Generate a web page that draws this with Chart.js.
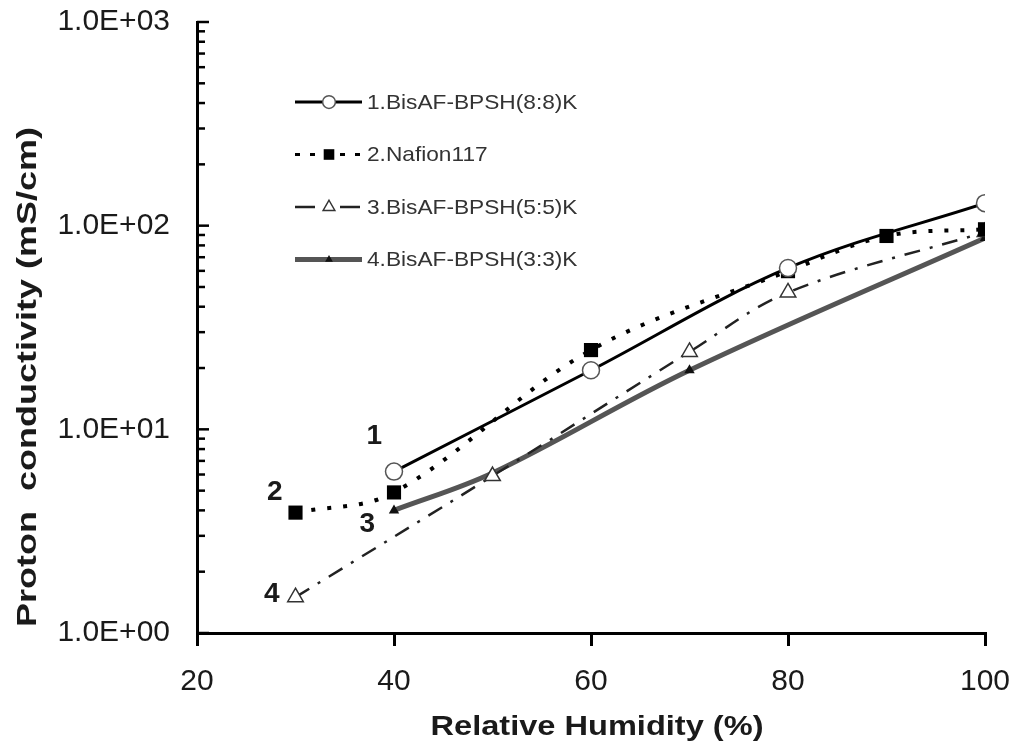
<!DOCTYPE html>
<html lang="en">
<head>
  <meta charset="UTF-8" />
  <title>Proton conductivity vs RH</title>
  <script src="https://cdn.jsdelivr.net/npm/chart.js"></script>
  <style>
    html, body { margin: 0; padding: 0; background: #fff; }
    .wrap { width: 1013px; height: 746px; }
  </style>
</head>
<body>
  <div class="wrap"><canvas id="chart" width="1013" height="746"></canvas></div>
  <script>
    // values
    const seriesNames = ["1.BisAF-BPSH(8:8)K", "2.Nafion117", "3.BisAF-BPSH(5:5)K", "4.BisAF-BPSH(3:3)K"];
    const rh1 = [40, 60, 80, 100];
    const cond1 = [6.2, 19.5, 62, 129];
    const rh2 = [30, 40, 60, 80, 90, 100];
    const cond2 = [3.9, 4.9, 24.5, 59.8, 89, 96];
    const rh3 = [30, 50, 70, 80, 100];
    const cond3 = [1.5, 5.9, 24, 47, 93];
    const rh4 = [40, 50, 70, 100];
    const cond4 = [4.0, 6.1, 19.5, 87];
    const yTicks = [1, 10, 100, 1000];
    const xTicks = [20, 40, 60, 80, 100];

    // curve number labels placed in the plot (data units)
    const tagText = ["1", "2", "3", "4"];
    const tagX = [38.0, 27.9, 37.3, 27.6];
    const tagY = [9.2, 4.9, 3.4, 1.55];

    const pts = (xs, ys) => xs.map((x, i) => ({ x, y: ys[i] }));
    const FONT = "'Liberation Sans', Arial, sans-serif";

    const datasets = [
      {
        label: seriesNames[0], data: pts(rh1, cond1),
        borderColor: "#000", borderWidth: 3,
        pointStyle: "circle", pointRadius: 8.5, pointBorderWidth: 1.5,
        pointBorderColor: "#555", pointBackgroundColor: "#fff"
      },
      {
        label: seriesNames[1], data: pts(rh2, cond2),
        borderColor: "#000", borderWidth: 4, borderDash: [4, 12],
        pointStyle: "rect", pointRadius: 10, pointBorderWidth: 0,
        pointBorderColor: "#000", pointBackgroundColor: "#000"
      },
      {
        label: seriesNames[2], data: pts(rh3, cond3),
        borderColor: "#222", borderWidth: 2.5, borderDash: [16, 10, 3, 10],
        pointStyle: "triangle", pointRadius: 9, pointBorderWidth: 1.5,
        pointBorderColor: "#333", pointBackgroundColor: "#fff"
      },
      {
        label: seriesNames[3], data: pts(rh4, cond4),
        borderColor: "#555", borderWidth: 5,
        pointStyle: "triangle", pointRadius: 6, pointBorderWidth: 0,
        pointBorderColor: "#111", pointBackgroundColor: "#111"
      }
    ];

    function marker(ctx, ds, x, y, r) {
      ctx.save();
      ctx.setLineDash([]);
      ctx.fillStyle = ds.pointBackgroundColor;
      ctx.strokeStyle = ds.pointBorderColor;
      ctx.lineWidth = ds.pointBorderWidth;
      ctx.beginPath();
      if (ds.pointStyle === "circle") {
        ctx.arc(x, y, r, 0, Math.PI * 2);
      } else if (ds.pointStyle === "rect") {
        const s = r * Math.SQRT1_2;
        ctx.rect(x - s, y - s, 2 * s, 2 * s);
      } else {
        const h = r * 0.866;
        ctx.moveTo(x, y - r);
        ctx.lineTo(x + h, y + r / 2);
        ctx.lineTo(x - h, y + r / 2);
        ctx.closePath();
      }
      ctx.fill();
      if (ds.pointBorderWidth > 0) ctx.stroke();
      ctx.restore();
    }

    // text squeezed/stretched to a given width (the source fonts are wide)
    function wideText(ctx, txt, x, y, width) {
      const w = ctx.measureText(txt).width;
      ctx.save();
      ctx.translate(x, y);
      ctx.scale(width / w, 1);
      ctx.fillText(txt, 0, 0);
      ctx.restore();
    }

    const decorations = {
      id: "decorations",
      afterDraw(chart) {
        const { ctx, chartArea: ca, scales } = chart;
        const xs = scales.x, ys = scales.y;
        ctx.save();

        // inside ticks on the log axis
        ctx.strokeStyle = "#000";
        ctx.lineWidth = 2.5;
        for (let d = 1; d <= 1000; d *= 10) {
          const top = d === 1000 ? 2 : 10;
          for (let m = 1; m < top; m++) {
            const py = ys.getPixelForValue(d * m);
            const len = m === 1 ? 12 : 8;
            ctx.beginPath();
            ctx.moveTo(ca.left, py);
            ctx.lineTo(ca.left + len, py);
            ctx.stroke();
          }
        }

        // curve tags
        ctx.fillStyle = "#1a1a1a";
        ctx.font = "bold 28px " + FONT;
        ctx.textAlign = "center";
        ctx.textBaseline = "middle";
        tagText.forEach((t, i) => {
          ctx.fillText(t, xs.getPixelForValue(tagX[i]), ys.getPixelForValue(tagY[i]));
        });

        // legend inside plot
        const lx = ca.left + 98, ly = ca.top + 80, gap = 52.5;
        ctx.font = "21px " + FONT;
        chart.data.datasets.forEach((ds, i) => {
          const y = ly + i * gap;
          ctx.save();
          ctx.strokeStyle = ds.borderColor;
          ctx.lineWidth = i === 1 ? 3 : ds.borderWidth;
          if (i === 1) ctx.setLineDash([5, 10]);
          else if (i === 2) ctx.setLineDash([20, 25]);
          else ctx.setLineDash([]);
          ctx.beginPath();
          ctx.moveTo(lx, y);
          ctx.lineTo(lx + 67, y);
          ctx.stroke();
          ctx.restore();
          marker(ctx, ds, lx + 34, y, ds.pointRadius * 0.75);
          ctx.fillStyle = "#333";
          ctx.textAlign = "left";
          const w = ctx.measureText(ds.label).width * 1.08;
          wideText(ctx, ds.label, lx + 72, y + 1, w);
        });

        // axis titles
        ctx.fillStyle = "#1a1a1a";
        ctx.font = "bold 28px " + FONT;
        ctx.textAlign = "center";
        wideText(ctx, "Relative Humidity (%)", 597, ca.bottom + 94, 333);
        ctx.translate(28, ca.top + 355);
        ctx.rotate(-Math.PI / 2);
        wideText(ctx, "Proton  conductivity (mS/cm)", 0, 0, 500);
        ctx.restore();
      }
    };

    new Chart(document.getElementById("chart"), {
      type: "line",
      data: { datasets },
      options: {
        responsive: false,
        animation: false,
        devicePixelRatio: 1,
        layout: { padding: { top: 22, right: 28, left: 0, bottom: 0 } },
        elements: { line: { tension: 0.35, fill: false } },
        plugins: { legend: { display: false }, tooltip: { enabled: false } },
        scales: {
          x: {
            type: "linear", min: 20, max: 100,
            afterFit: s => { s.height = 113; s.paddingLeft = 0; s.paddingRight = 0; },
            afterBuildTicks: s => { s.ticks = xTicks.map(v => ({ value: v })); },
            grid: { drawOnChartArea: false, drawTicks: true, tickLength: 13, color: "#000", lineWidth: 3 },
            border: { display: true, color: "#000", width: 3 },
            ticks: { color: "#1a1a1a", padding: 18, font: { family: FONT, size: 30 }, maxRotation: 0 }
          },
          y: {
            type: "logarithmic", min: 1, max: 1000,
            afterFit: s => { s.width = 197; s.paddingTop = 0; s.paddingBottom = 0; },
            afterBuildTicks: s => { s.ticks = yTicks.map(v => ({ value: v, major: true })); },
            grid: { drawOnChartArea: false, drawTicks: false },
            border: { display: true, color: "#000", width: 3 },
            ticks: {
              color: "#1a1a1a", padding: 27,
              font: { family: FONT, size: 30 },
              callback: v => "1.0E+" + String(Math.round(Math.log10(v))).padStart(2, "0")
            }
          }
        }
      },
      plugins: [decorations]
    });
  </script>
</body>
</html>
